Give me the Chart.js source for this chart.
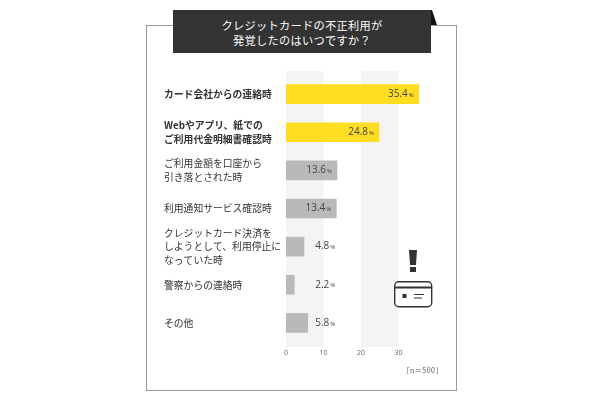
<!DOCTYPE html>
<html lang="ja">
<head>
<meta charset="utf-8">
<script src="https://cdn.jsdelivr.net/npm/chart.js@4"></script>
<style>
body { margin: 0; background: #fff; font-family: "Noto Sans CJK JP", sans-serif; }
#wrap { position: relative; width: 600px; height: 400px; overflow: hidden; }
#frame { position: absolute; left: 146px; top: 25px; width: 309px; height: 364px; border: 1.5px solid #999; }
#title { position: absolute; left: 173px; top: 10px; width: 258px; height: 43px; background: #333; color: #fff;
  font-size: 11.2px; line-height: 14.5px; text-align: center; padding-top: 8px; box-sizing: border-box; letter-spacing: .3px; }
#fold { position: absolute; left: 431px; top: 10px; }
#note { position: absolute; right: 157px; top: 365px; font-size: 7px; color: #555; letter-spacing: .5px; }
#icon { position: absolute; left: 390px; top: 248px; }
canvas { position: absolute; left: 0; top: 0; }
</style>
</head>
<body>
<div id="wrap">
  <div id="frame"></div>
  <canvas id="chart" width="600" height="400"></canvas>
  <div id="title">クレジットカードの不正利用が<br>発覚したのはいつですか？</div>
  <svg id="fold" width="7" height="16"><path d="M0 0 L1 0 L6 15 L0 15 Z" fill="#111"/></svg>
  <div id="note">［n＝500］</div>
  <svg id="icon" width="48" height="62">
    <path d="M19 2 H27 L26 17 H20 Z" fill="#333"/>
    <rect x="20" y="19" width="6" height="5" fill="#333"/>
    <rect x="4.7" y="33.7" width="37" height="25" rx="4" fill="#fff" stroke="#333" stroke-width="1.4"/>
    <rect x="4" y="38.5" width="38" height="2" fill="#333"/>
    <rect x="12.5" y="46" width="4" height="4" fill="#333"/>
    <path d="M24 46.5 H34 M24 50 H32" stroke="#333" stroke-width="1"/>
  </svg>
</div>
<script>
const categories = [
  'カード会社からの連絡時',
  ['Webやアプリ、紙での', 'ご利用代金明細書確認時'],
  ['ご利用金額を口座から', '引き落とされた時'],
  '利用通知サービス確認時',
  ['クレジットカード決済を', 'しようとして、利用停止に', 'なっていた時'],
  '警察からの連絡時',
  'その他'
];
const percents = [35.4, 24.8, 13.6, 13.4, 4.8, 2.2, 5.8];
const barColors = ['#ffdd22', '#ffdd22', '#b9b9b9', '#b9b9b9', '#b9b9b9', '#b9b9b9', '#b9b9b9'];
const bands = [[0, 10], [20, 30]];

const numFont = '"Open Sans", sans-serif';

// grey stripes behind the bars
const bandPlugin = {
  id: 'bandPlugin',
  beforeDatasetsDraw(chart) {
    const { ctx, chartArea, scales } = chart;
    ctx.save();
    ctx.fillStyle = '#f4f4f4';
    bands.forEach(b => {
      const x0 = scales.x.getPixelForValue(b[0]);
      const x1 = scales.x.getPixelForValue(b[1]);
      ctx.fillRect(x0, chartArea.top - 4, x1 - x0, chartArea.bottom - chartArea.top + 9);
    });
    ctx.restore();
  }
};

// value + small % sign, inside long bars and in a fixed column for short ones
const valuePlugin = {
  id: 'valuePlugin',
  afterDatasetsDraw(chart) {
    const { ctx, scales } = chart;
    const meta = chart.getDatasetMeta(0);
    ctx.save();
    ctx.fillStyle = '#444';
    ctx.textBaseline = 'middle';
    meta.data.forEach((bar, i) => {
      const num = percents[i].toFixed(1);
      ctx.font = '10px ' + numFont;
      const numW = ctx.measureText(num).width;
      ctx.font = '6px ' + numFont;
      const pctW = ctx.measureText('%').width;
      let x;
      if (percents[i] > 10) {
        x = bar.x - 5 - pctW - numW - 1;
      } else {
        x = scales.x.getPixelForValue(7.8);
      }
      ctx.textAlign = 'left';
      ctx.font = '10px ' + numFont;
      ctx.fillText(num, x, bar.y);
      ctx.font = '6px ' + numFont;
      ctx.fillText('%', x + numW + 1, bar.y + 1);
    });
    ctx.restore();
  }
};

new Chart(document.getElementById('chart').getContext('2d'), {
  type: 'bar',
  data: {
    labels: categories,
    datasets: [{
      data: percents,
      backgroundColor: barColors,
      barThickness: 19
    }]
  },
  plugins: [bandPlugin, valuePlugin],
  options: {
    indexAxis: 'y',
    responsive: false,
    animation: false,
    devicePixelRatio: 1,
    layout: { padding: { left: 164, right: 164, top: 75, bottom: 28 } },
    plugins: { legend: { display: false }, tooltip: { enabled: false } },
    scales: {
      x: {
        min: 0,
        max: 40,
        grid: { display: false, drawTicks: false },
        border: { display: false },
        afterFit(s) { s.height = 30; },
        ticks: {
          stepSize: 10,
          padding: 7,
          color: '#666',
          maxRotation: 0,
          font: { size: 7, family: numFont },
          callback: v => (v <= 30 ? v : '')
        }
      },
      y: {
        grid: { display: false, drawTicks: false },
        border: { display: false },
        afterFit(s) { s.width = 122; },
        ticks: {
          autoSkip: false,
          crossAlign: 'far',
          padding: 0,
          color: '#333',
          font: ctx => ({
            size: 9.8,
            family: '"Noto Sans CJK JP", sans-serif',
            weight: ctx.index < 2 ? 'bold' : 'normal',
            lineHeight: 1.35
          })
        }
      }
    }
  }
});
</script>
</body>
</html>
